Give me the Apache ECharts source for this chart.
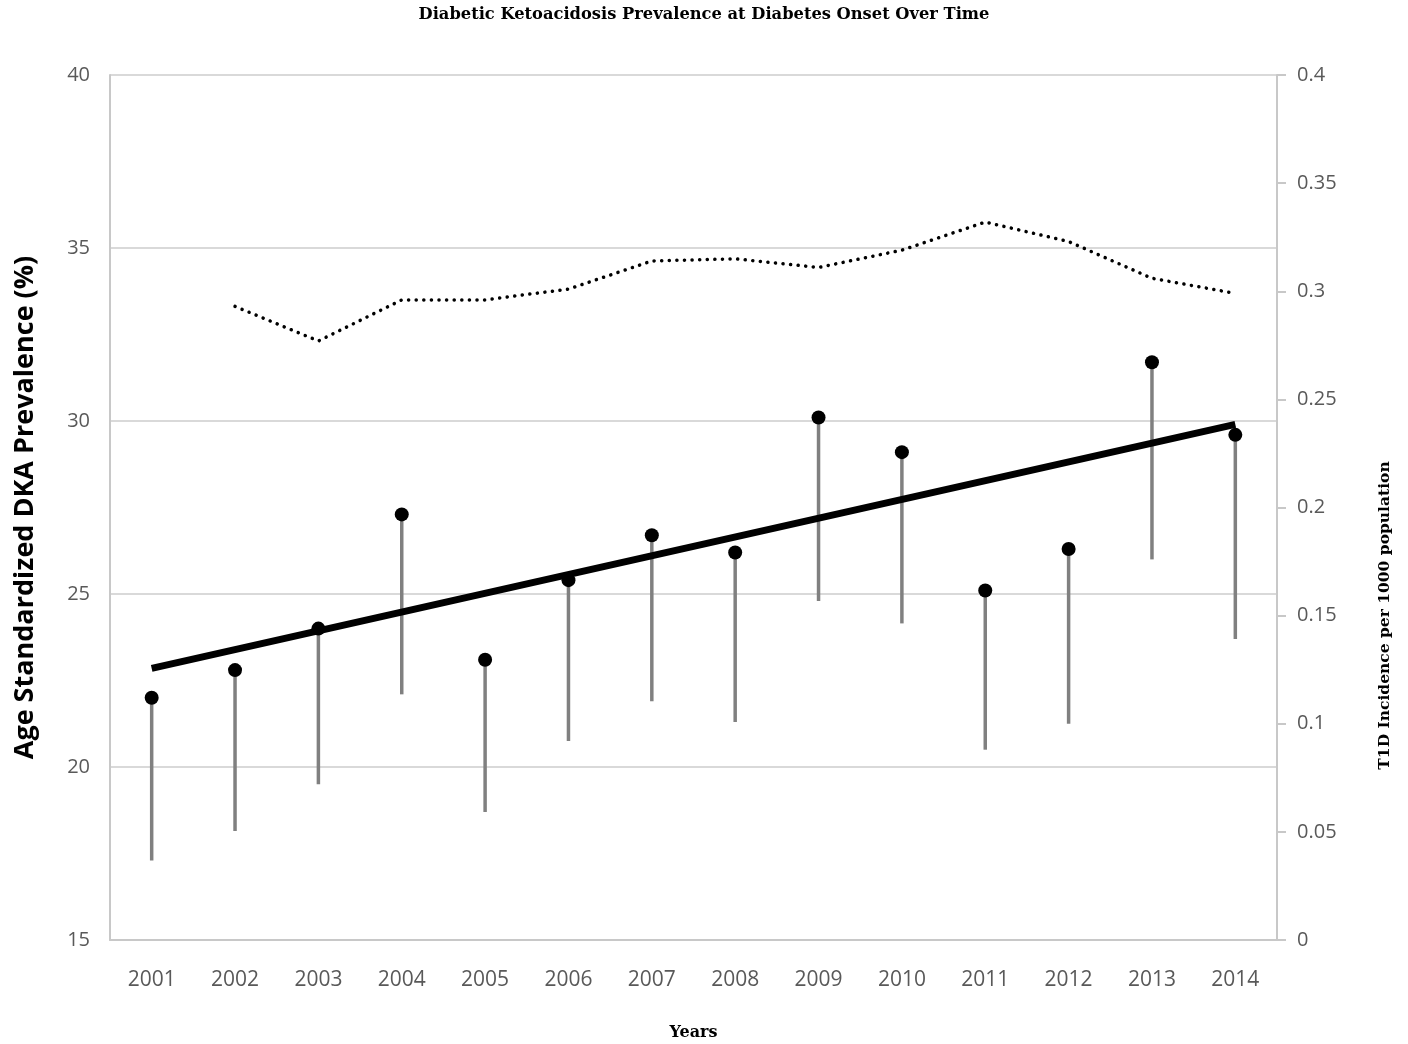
<!DOCTYPE html>
<html>
<head>
<meta charset="utf-8">
<script src="https://cdn.jsdelivr.net/npm/echarts@6/dist/echarts.min.js"></script>
<style>
  html, body { margin: 0; padding: 0; background: #fff; }
  #chart { width: 1408px; height: 1044px; }
</style>
</head>
<body>
<div id="chart"></div>
<script>
// years on the x axis
var years = ["2001", "2002", "2003", "2004", "2005", "2006", "2007",
             "2008", "2009", "2010", "2011", "2012", "2013", "2014"];
// age standardized DKA prevalence (%)
var dkaValues = [22.0, 22.8, 24.0, 27.3, 23.1, 25.4, 26.7, 26.2, 30.1, 29.1, 25.1, 26.3, 31.7, 29.6];
// lower end of each error bar
var dkaLower = [17.3, 18.15, 19.5, 22.1, 18.7, 20.75, 21.9, 21.3, 24.8, 24.15, 20.5, 21.25, 26.0, 23.7];
// linear trend, first and last year only
var trendValues = [22.85, null, null, null, null, null, null, null, null, null, null, null, null, 29.9];
// T1D incidence per 1000 population (right axis)
var incidence = [null, 0.293, 0.277, 0.296, 0.296, 0.301, 0.314, 0.315, 0.311, 0.319, 0.332, 0.323, 0.306, 0.299];

var labelColor = "#595959";
var axisGray = "#c8c8c8";

var errData = years.map(function (y, i) { return [i, dkaLower[i], dkaValues[i]]; });

var option = {
  animation: false,
  title: {
    text: "Diabetic Ketoacidosis Prevalence at Diabetes Onset Over Time",
    left: "center",
    top: 2,
    textStyle: { fontFamily: "DejaVu Serif", fontSize: 16.3, fontWeight: "bold", color: "#000" }
  },
  grid: { left: 110, right: 131, top: 75, bottom: 104, outerBoundsMode: "none", containLabel: false },
  xAxis: {
    type: "category",
    data: years,
    name: "Years",
    nameLocation: "middle",
    nameGap: 85,
    nameTextStyle: { fontFamily: "DejaVu Serif", fontSize: 16, fontWeight: "bold", color: "#000" },
    axisLine: { lineStyle: { color: axisGray, width: 2 } },
    axisTick: { show: false },
    axisLabel: { color: labelColor, fontSize: 21, fontFamily: "Open Sans", margin: 30 }
  },
  yAxis: [
    {
      type: "value",
      min: 15, max: 40, interval: 5,
      name: "Age Standardized DKA Prevalence (%)",
      nameLocation: "middle",
      nameGap: 71,
      nameRotate: 90,
      nameTextStyle: { fontFamily: "Open Sans", fontSize: 27, fontWeight: "bold", color: "#000" },
      axisLine: { show: true, lineStyle: { color: axisGray, width: 2 } },
      axisTick: { show: false },
      splitLine: { lineStyle: { color: "#d9d9d9", width: 2 } },
      axisLabel: { color: labelColor, fontSize: 20, fontFamily: "Open Sans", margin: 20, padding: [8, 0, 0, 0] }
    },
    {
      type: "value",
      min: 0, max: 0.4, interval: 0.05,
      position: "right",
      name: "T1D Incidence per 1000 population",
      nameLocation: "middle",
      nameGap: 100,
      nameRotate: 90,
      nameTextStyle: {
        fontFamily: "DejaVu Serif", fontSize: 15.5, fontWeight: "bold", color: "#000",
        padding: [0, 216, 0, 0]
      },
      axisLine: { show: true, lineStyle: { color: axisGray, width: 2 } },
      axisTick: { show: true, length: 9, lineStyle: { color: axisGray, width: 2 } },
      splitLine: { show: false },
      axisLabel: {
        color: labelColor, fontSize: 20, fontFamily: "Open Sans", margin: 20, padding: [8, 0, 0, 0],
        formatter: function (v) { return String(+v.toFixed(2)); }
      }
    }
  ],
  series: [
    {
      // error bars, drawn from the lower bound up to the value
      type: "custom",
      yAxisIndex: 0,
      data: errData,
      z: 2,
      renderItem: function (params, api) {
        var lo = api.coord([api.value(0), api.value(1)]);
        var hi = api.coord([api.value(0), api.value(2)]);
        return {
          type: "line",
          shape: { x1: lo[0], y1: lo[1], x2: hi[0], y2: hi[1] },
          style: { stroke: "#808080", lineWidth: 3.5 }
        };
      }
    },
    {
      // trend line
      type: "line",
      yAxisIndex: 0,
      data: trendValues,
      connectNulls: true,
      symbol: "none",
      z: 3,
      lineStyle: { color: "#000", width: 7 }
    },
    {
      type: "scatter",
      yAxisIndex: 0,
      data: dkaValues,
      symbol: "circle",
      symbolSize: 14,
      z: 4,
      itemStyle: { color: "#000", opacity: 1 }
    },
    {
      // incidence, dotted line on the right axis
      type: "line",
      yAxisIndex: 1,
      data: incidence,
      symbol: "none",
      z: 3,
      lineStyle: { color: "#000", width: 3.5, type: [0.1, 7.5], cap: "round" }
    }
  ]
};

var myChart = echarts.init(document.getElementById("chart"));
myChart.setOption(option);
</script>
</body>
</html>
